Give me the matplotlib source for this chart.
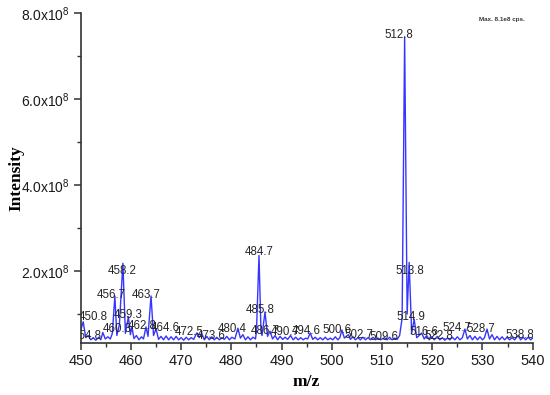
import matplotlib

matplotlib.use("Agg")
import matplotlib.pyplot as plt
import numpy as np
from matplotlib.ticker import MultipleLocator

plt.rcParams["font.family"] = ["Liberation Sans", "DejaVu Sans"]
plt.rcParams["mathtext.default"] = "regular"

# trace of the mass spectrum (m/z, intensity in 1e8)
trace_mz = [
    450.0, 450.5, 451.0, 451.5, 452.0, 452.5, 453.0, 453.6, 454.0, 454.4, 454.9, 455.4, 455.9,
    456.3, 456.8, 457.2, 457.7, 458.4, 458.9, 459.5, 459.9, 460.2, 460.6, 461.1, 461.6, 462.1,
    462.5, 463.0, 463.4, 464.0, 464.5, 465.0, 465.5, 466.0, 466.5, 467.0, 467.5, 468.0, 468.5,
    469.0, 469.5, 470.0, 470.5, 471.0, 471.5, 472.0, 472.5, 473.1, 473.6, 474.1, 474.6, 475.1,
    475.6, 476.1, 476.6, 477.1, 477.6, 478.1, 478.6, 479.1, 479.6, 480.1, 480.7, 481.3, 481.8,
    482.3, 482.8, 483.3, 483.8, 484.3, 484.8, 485.0, 485.5, 485.9, 486.1, 486.7, 487.2, 487.7,
    488.2, 488.7, 489.2, 489.7, 490.2, 490.7, 491.2, 491.8, 492.3, 492.8, 493.3, 493.8, 494.3,
    494.8, 495.2, 495.7, 496.2, 496.7, 497.2, 497.7, 498.2, 498.7, 499.2, 499.7, 500.2, 500.7,
    501.2, 501.6, 502.0, 502.5, 503.3, 503.7, 504.2, 504.7, 505.2, 505.7, 506.2, 506.7, 507.2,
    507.7, 508.2, 508.7, 509.2, 509.7, 510.5, 511.0, 511.5, 512.0, 512.5, 513.0, 513.5, 514.0,
    514.5, 515.0, 515.4, 515.9, 516.4, 516.9, 517.4, 517.9, 518.4, 518.9, 519.4, 519.9, 520.4,
    521.0, 521.5, 522.0, 522.5, 523.0, 523.5, 524.0, 524.5, 525.0, 525.5, 526.0, 526.5, 527.0,
    527.5, 528.0, 528.5, 529.0, 529.5, 530.0, 530.4, 530.9, 531.4, 531.9, 532.4, 532.9, 533.4,
    533.9, 534.4, 534.9, 535.4, 535.9, 536.4, 537.1, 537.6, 538.1, 538.6, 539.1, 539.6, 540.0,
]
trace_int = [
    0.62, 0.82, 0.45, 0.50, 0.40, 0.45, 0.39, 0.46, 0.40, 0.57, 0.42, 0.47, 0.42,
    0.55, 1.42, 0.50, 0.75, 2.18, 0.55, 0.94, 0.52, 0.70, 0.43, 0.50, 0.40, 0.47,
    0.42, 0.70, 0.48, 1.42, 0.50, 0.66, 0.41, 0.48, 0.40, 0.49, 0.40, 0.47, 0.40,
    0.48, 0.40, 0.45, 0.39, 0.46, 0.40, 0.45, 0.41, 0.56, 0.45, 0.55, 0.40, 0.48,
    0.40, 0.47, 0.40, 0.46, 0.40, 0.45, 0.41, 0.48, 0.40, 0.46, 0.42, 0.67, 0.44,
    0.52, 0.40, 0.47, 0.40, 0.46, 0.42, 0.60, 2.36, 0.60, 0.50, 1.05, 0.48, 0.60,
    0.42, 0.50, 0.40, 0.48, 0.41, 0.46, 0.41, 0.50, 0.40, 0.46, 0.40, 0.45, 0.40,
    0.44, 0.42, 0.56, 0.41, 0.46, 0.40, 0.45, 0.40, 0.46, 0.40, 0.44, 0.40, 0.47,
    0.40, 0.45, 0.63, 0.44, 0.52, 0.41, 0.47, 0.40, 0.45, 0.40, 0.46, 0.40, 0.45,
    0.40, 0.46, 0.40, 0.44, 0.40, 0.45, 0.40, 0.46, 0.40, 0.44, 0.41, 0.50, 0.90,
    7.45, 1.00, 2.20, 0.55, 0.88, 0.45, 0.50, 0.56, 0.42, 0.50, 0.40, 0.47, 0.40,
    0.48, 0.40, 0.45, 0.39, 0.44, 0.40, 0.46, 0.40, 0.47, 0.40, 0.45, 0.65, 0.42,
    0.50, 0.40, 0.48, 0.40, 0.47, 0.40, 0.45, 0.65, 0.42, 0.52, 0.40, 0.48, 0.40,
    0.47, 0.40, 0.46, 0.40, 0.45, 0.40, 0.50, 0.40, 0.46, 0.40, 0.46, 0.40, 0.44,
]

# labelled peaks: position on the axis, apex height (1e8), printed label
peak_mz = [450.5, 454.4, 456.8, 458.4, 459.5, 460.2, 463.0, 464.0, 465.0, 473.1,
           474.1, 481.3, 485.5, 486.7, 487.7, 491.8, 495.7, 502.0, 503.3, 510.5,
           514.5, 515.4, 516.4, 517.9, 521.0, 526.5, 530.9, 537.1]
peak_int = [0.82, 0.57, 1.42, 2.18, 0.94, 0.70, 0.70, 1.42, 0.66, 0.56,
            0.55, 0.67, 2.36, 1.05, 0.60, 0.50, 0.56, 0.63, 0.52, 0.45,
            7.45, 2.20, 0.88, 0.56, 0.48, 0.65, 0.65, 0.50]
peak_text = ["450.8", "454.8", "456.7", "458.2", "459.3", "460.3", "462.8", "463.7", "464.6", "472.5",
             "473.6", "480.4", "484.7", "485.8", "486.7", "490.7", "494.6", "500.6", "502.7", "509.6",
             "512.8", "513.8", "514.9", "516.6", "522.8", "524.7", "528.7", "538.8"]
# label nudges from the apex, in pixels (right, up)
label_nudge = [(10, 5), (-16, -3.5), (-4, 1), (-1, -7.5), (0, 1.5), (-15, -2), (-4, 0.5), (-5, 1),
               (9, 0.5), (-8, 0.5), (9, -2.5), (-6, -1), (0, 4), (-5, 2), (-5, 0), (-5, 3.5),
               (-3.5, 2), (-5, 0), (10.5, 0), (-1, 1), (-5.5, 2), (1, -8.5), (-3.5, 2), (2, 0.5),
               (1.5, 0), (-8, 1), (-6, 0.5), (2, 0.5)]

yticks = [2, 4, 6, 8]
ytick_labels = [r"$\mathregular{%.1fx10^{8}}$" % v for v in yticks]

fig = plt.figure(figsize=(5.5, 3.95), dpi=100)
ax = fig.add_axes([80.7 / 550, 1 - 343 / 395, 452 / 550, 330 / 395])

ax.plot(trace_mz, np.array(trace_int) * 1e8, color="#3535ff", linewidth=1.0)

for mz, inten, txt, (dx, dy) in zip(peak_mz, peak_int, peak_text, label_nudge):
    ax.annotate(txt, (mz, inten * 1e8), xytext=(dx * 0.72, dy * 0.72), textcoords="offset points",
                ha="center", va="center", fontsize=8.3, color="#262626", clip_on=True)

ax.set_xlim(450, 540)
ax.set_ylim(0.326e8, 8.0e8)
ax.xaxis.set_major_locator(MultipleLocator(10))
ax.xaxis.set_minor_locator(MultipleLocator(5))
ax.set_yticks([v * 1e8 for v in yticks])
ax.set_yticklabels(ytick_labels)
ax.yaxis.set_minor_locator(MultipleLocator(1e8))

for side in ["top", "right"]:
    ax.spines[side].set_visible(False)
for side in ["left", "bottom"]:
    ax.spines[side].set_linewidth(1.2)
    ax.spines[side].set_color("#333333")

ax.tick_params(which="major", direction="out", length=5, width=1.1, color="#333333", labelsize=10.5,
               labelcolor="#1a1a1a", pad=3)
ax.tick_params(which="minor", direction="out", length=3, width=1.0, color="#333333")
ax.tick_params(axis="y", labelsize=10, pad=3)

ax.set_xlabel("m/z", fontsize=12.5, fontweight="bold", family="Liberation Serif")
ax.set_ylabel("Intensity", fontsize=12.5, fontweight="bold", family="Liberation Serif")
ax.xaxis.set_label_coords(226 / 452, (343 - 382) / 330)
ax.yaxis.set_label_coords((16 - 80.7) / 452, 0.5)
ax.xaxis.label.set_va("center")
ax.yaxis.label.set_va("center")

fig.text(502 / 550, 1 - 19 / 395, "Max. 8.1e8 cps.", fontsize=4.5, color="#333333",
         ha="center", va="center", fontweight="bold")

fig.savefig("out.png", dpi=100)
